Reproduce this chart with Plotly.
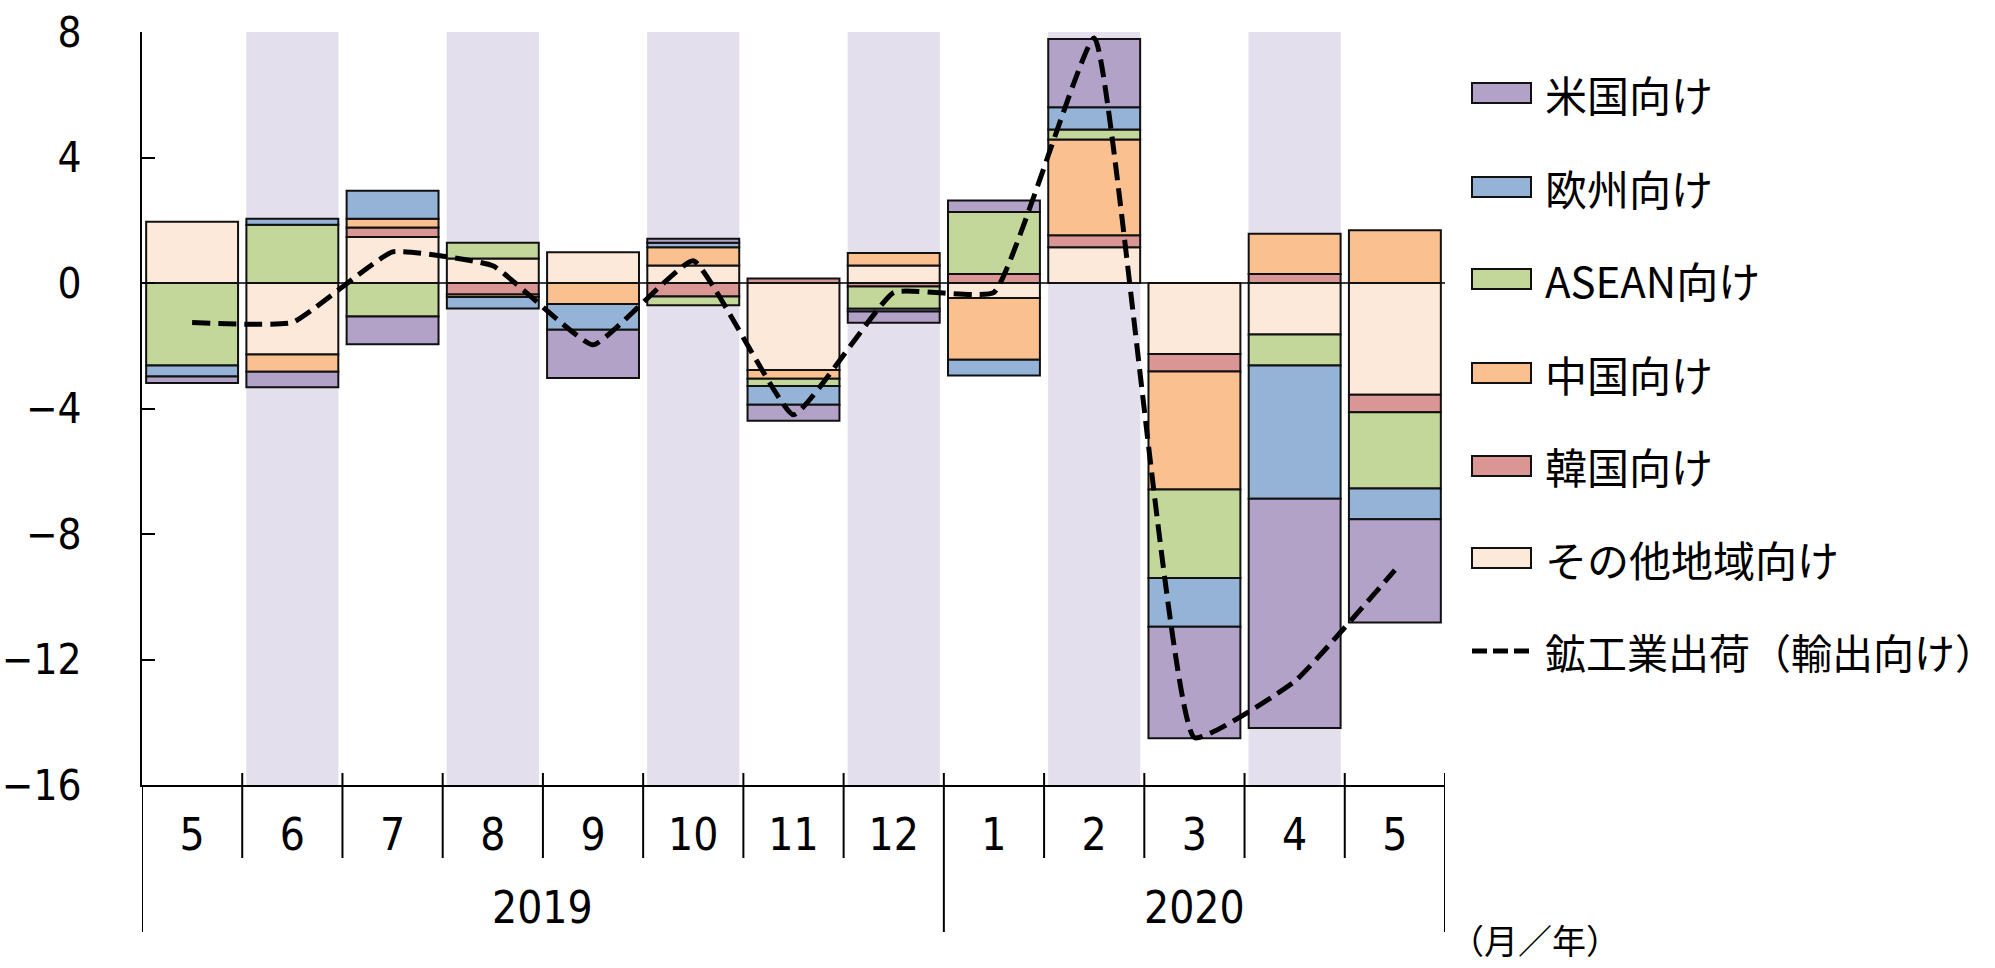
import plotly.graph_objects as go

# ---------------- data ----------------
years = ["2019"] * 8 + ["2020"] * 5
months = ["5", "6", "7", "8", "9", "10", "11", "12", "1", "2", "3", "4", "5"]

other = [1.95, -2.28, 1.47, 0.78, 0.98, 0.56, -2.77, 0.56, -0.48, 1.14, -2.26, -1.64, -3.56]
korea = [None, None, 0.30, -0.37, None, -0.43, 0.14, -0.11, 0.29, 0.38, -0.56, 0.29, -0.56]
china = [None, -0.55, 0.28, -0.08, -0.67, 0.58, -0.28, 0.40, -1.97, 3.05, -3.76, 1.28, 1.68]
asean = [-2.63, 1.86, -1.07, 0.50, None, -0.28, -0.23, -0.71, 1.97, 0.32, -2.82, -0.99, -2.43]
europe = [-0.35, 0.19, 0.89, -0.36, -0.82, 0.14, -0.60, -0.09, -0.50, 0.71, -1.56, -4.25, -0.98]
usa = [-0.21, -0.49, -0.88, None, -1.54, 0.13, -0.51, -0.36, 0.37, 2.18, -3.55, -7.30, -3.29]
shipments = [-1.26, -1.26, 0.99, 0.55, -1.97, 0.71, -4.20, -0.30, -0.30, 7.81, -14.49, -12.70, -9.15]

series_names = ["その他地域向け", "韓国向け", "中国向け", "ASEAN向け", "欧州向け", "米国向け"]
series_values = [other, korea, china, asean, europe, usa]
series_colors = ["#FDE9D9", "#D99694", "#FAC090", "#C4D79B", "#95B3D7", "#B3A2C7"]
line_name = "鉱工業出荷（輸出向け）"

y_ticks = [8, 4, 0, -4, -8, -12, -16]
shaded_months = [1, 3, 5, 7, 9, 11]  # category indices with background band

# ---------------- figure ----------------
cats = [f"{y}-{m}" for y, m in zip(years, months)]
W, H = 1995, 968
ML, MR, MT, MB = 142, 550, 32, 183
plot_h = H - MT - MB
plot_w = W - ML - MR

def py(p):  # pixel y -> paper y
    return (H - MB - p) / plot_h

def px(p):  # pixel x -> paper x
    return (p - ML) / plot_w

DIGIT_FONT = "Liberation Sans Narrow, DejaVu Sans Condensed, Arial Narrow, Liberation Sans, sans-serif"
CJK_FONT = "Noto Sans CJK JP, sans-serif"

fig = go.Figure()
for name, vals, col in zip(series_names, series_values, series_colors):
    fig.add_trace(go.Bar(
        x=cats, y=vals, name=name,
        marker=dict(color=col, line=dict(color="#111111", width=2)),
        showlegend=False,
    ))

fig.add_trace(go.Scatter(
    x=cats, y=shipments, name=line_name, mode="lines",
    line=dict(color="black", width=5, dash="18px,8px", shape="spline", smoothing=0.35),
    showlegend=False,
))

shapes = []
# background bands
for i in shaded_months:
    shapes.append(dict(type="rect", xref="x", yref="y", x0=i - 0.46, x1=i + 0.46,
                       y0=y_ticks[-1], y1=y_ticks[0], fillcolor="#E4DFEC",
                       line=dict(width=0), layer="below"))
# month / year dividers
n = len(cats)
for b in range(1, n + 1):
    xb = b - 0.5
    is_year = (b == n) or (years[b] != years[b - 1])
    shapes.append(dict(type="line", xref="x", yref="paper", x0=xb, x1=xb,
                       y0=py(773), y1=py(932) if is_year else py(858),
                       line=dict(color="black", width=2)))
shapes.append(dict(type="line", xref="x", yref="paper", x0=-0.5, x1=-0.5,
                   y0=0, y1=py(932), line=dict(color="black", width=2)))

annotations = []
# year labels
for yr in sorted(set(years)):
    idx = [i for i, y in enumerate(years) if y == yr]
    annotations.append(dict(x=sum(idx) / len(idx), y=py(907), xref="x", yref="paper",
                            text=yr, showarrow=False, yanchor="middle",
                            font=dict(family=DIGIT_FONT, size=44, color="black")))
annotations.append(dict(x=px(1448), y=py(939), xref="paper", yref="paper",
                        text="（月／年）", showarrow=False, xanchor="left", yanchor="middle",
                        font=dict(family=CJK_FONT, size=34, color="black")))

# manual legend
leg_names = list(reversed(series_names))
leg_colors = list(reversed(series_colors))
leg_y = [93, 187, 279, 373, 466, 558]
for k, (nm, col) in enumerate(zip(leg_names, leg_colors)):
    yc = leg_y[k]
    shapes.append(dict(type="rect", xref="paper", yref="paper",
                       x0=px(1472), x1=px(1531), y0=py(yc + 10), y1=py(yc - 10),
                       fillcolor=col, line=dict(color="#111111", width=2)))
    annotations.append(dict(x=px(1543), y=py(yc), xref="paper", yref="paper", text=nm,
                            showarrow=False, xanchor="left", yanchor="middle",
                            font=dict(family=CJK_FONT, size=42, color="black")))
shapes.append(dict(type="line", xref="paper", yref="paper", x0=px(1472), x1=px(1531),
                   y0=py(651), y1=py(651),
                   line=dict(color="black", width=5, dash="15px,6px")))
annotations.append(dict(x=px(1543), y=py(651), xref="paper", yref="paper", text=line_name,
                        showarrow=False, xanchor="left", yanchor="middle",
                        font=dict(family=CJK_FONT, size=41, color="black")))

fig.update_layout(
    width=W, height=H,
    margin=dict(l=ML, r=MR, t=MT, b=MB, pad=0, autoexpand=False),
    barmode="relative", bargap=0.083,
    plot_bgcolor="white", paper_bgcolor="white",
    showlegend=False,
    shapes=shapes, annotations=annotations,
    xaxis=dict(type="category", range=[-0.5, n - 0.5], tickvals=cats, ticktext=months,
               ticks="", showline=True, linecolor="black", linewidth=2, automargin=False,
               showgrid=False, zeroline=False, ticklabelstandoff=10,
               tickfont=dict(family=DIGIT_FONT, size=44, color="black")),
    yaxis=dict(range=[y_ticks[-1], y_ticks[0]], tickvals=y_ticks, ticks="inside",
               ticklen=13, tickwidth=1.5, tickcolor="black", automargin=False,
               showline=True, linecolor="black", linewidth=2, showgrid=False,
               zeroline=True, zerolinecolor="#404040", zerolinewidth=1.5,
               ticklabelstandoff=50,
               tickfont=dict(family=DIGIT_FONT, size=42, color="black")),
)

fig.write_html("out.html", config={"displayModeBar": False},
               post_script="document.body.style.margin='0';")
